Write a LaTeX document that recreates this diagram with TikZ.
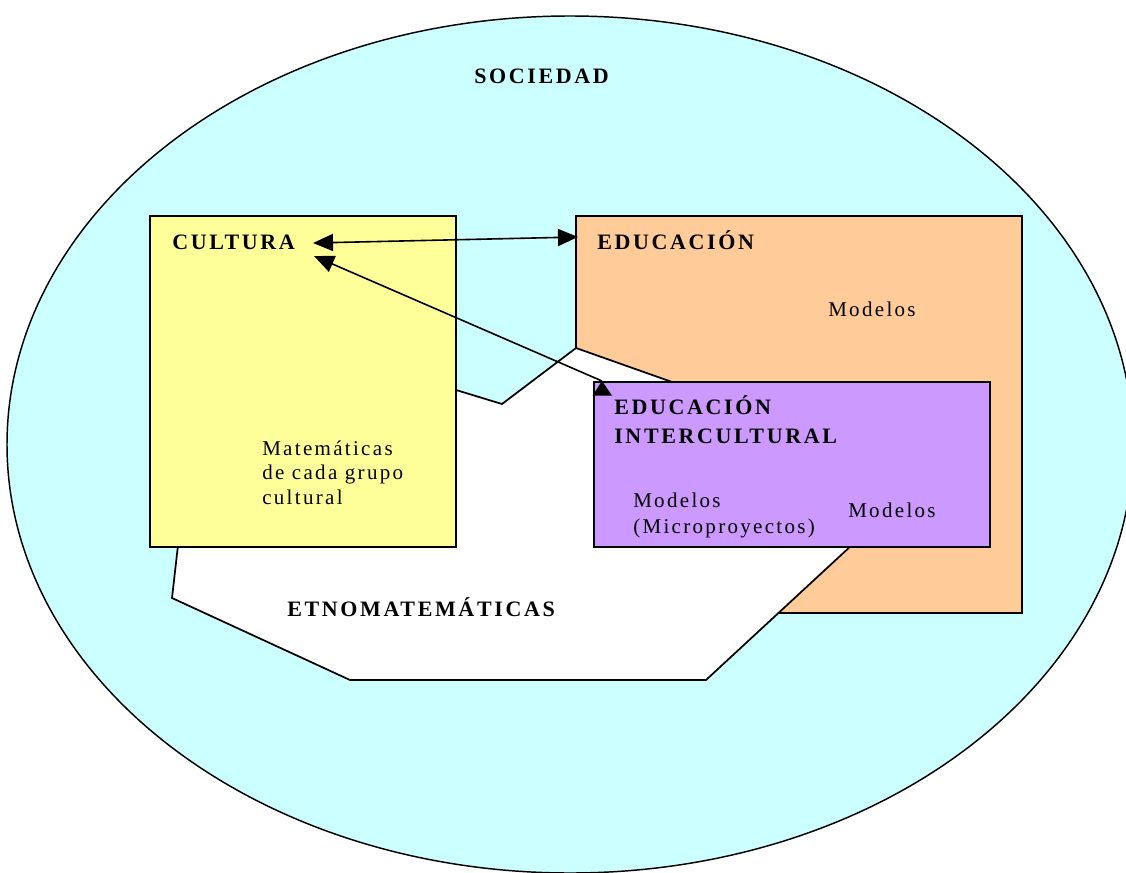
\documentclass[tikz,border=0pt]{standalone}
\usepackage{fontspec}
\setmainfont{Liberation Serif}[LetterSpace=11]
\newfontfamily\hdfont{Liberation Serif}[LetterSpace=12]
\usetikzlibrary{arrows.meta,shapes.geometric}
\definecolor{soc}{HTML}{CCFFFF}
\definecolor{cul}{HTML}{FFFF99}
\definecolor{edu}{HTML}{FFCC99}
\definecolor{inter}{HTML}{CC99FF}
\begin{document}
\begin{tikzpicture}[x=0.75pt,y=-0.75pt,
  >={Triangle[length=15pt,width=12.75pt]},
  box/.style={draw=black, line width=1.5pt, rectangle, inner sep=0pt, outer sep=0pt, anchor=north west},
  hd/.style={font=\hdfont\bfseries\fontsize{16.5}{19}\selectfont, anchor=base west, inner sep=0pt},
  tx/.style={font=\fontsize{15.75}{18}\selectfont, anchor=base west, inner sep=0pt},
  conn/.style={line width=1.2pt}
]
\useasboundingbox (0,0) rectangle (1126,873);
% society
\node[draw=black, line width=1.1pt, ellipse, fill=soc, inner sep=0pt,
      minimum width=844.5pt, minimum height=642.75pt] (sociedad) at (570,444.5) {};
% education box
\node[box, fill=edu, minimum width=334.5pt, minimum height=297.75pt] (educacion) at (576,216) {};
% etnomatematicas region
\filldraw[fill=white, draw=black, line width=1.3pt, line join=miter]
  (576,348) -- (720,399) -- (893,507) -- (706,680) -- (350,680) -- (172,598)
  -- (182,510) -- (410,376) -- (502,404) -- cycle;
% culture box
\node[box, fill=cul, minimum width=229.5pt, minimum height=248.25pt] (cultura) at (150,216) {};
% intercultural box
\node[box, fill=inter, minimum width=297pt, minimum height=123.75pt] (intercultural) at (594,382) {};
% connectors
\coordinate (c1) at (313,243);
\coordinate (e1) at (578,237);
\draw[conn, <->] (c1) -- (e1);
\coordinate (c2) at (314,256);
\coordinate (i2) at (602,381);
\draw[conn, <-] (c2) -- (i2);
\fill[black] (i2) -- ++(-9.5,14.5) -- ++(19.5,0) -- cycle;
% texts
\node[hd] (tsoc) at (474,84) {SOCIEDAD};
\node[hd] (tcult) at (172,250) {CULTURA};
\node[hd] (tedu) at (597,250) {EDUCACIÓN};
\node[tx] (tmod1) at (828,316) {Modelos};
\node[hd] (tei1) at (614,414) {EDUCACIÓN};
\node[hd] (tei2) at (614,443) {INTERCULTURAL};
\node[tx] (tmat1) at (262,455) {Matemáticas};
\node[tx] (tmat2) at (262,479) {de cada grupo};
\node[tx] (tmat3) at (262,504) {cultural};
\node[tx] (tmod2) at (633,507) {Modelos};
\node[tx] (tmod3) at (633,533) {(Microproyectos)};
\node[tx] (tmod4) at (848,517) {Modelos};
\node[hd] (tetno) at (287,616) {ETNOMATEMÁTICAS};
\end{tikzpicture}
\end{document}
